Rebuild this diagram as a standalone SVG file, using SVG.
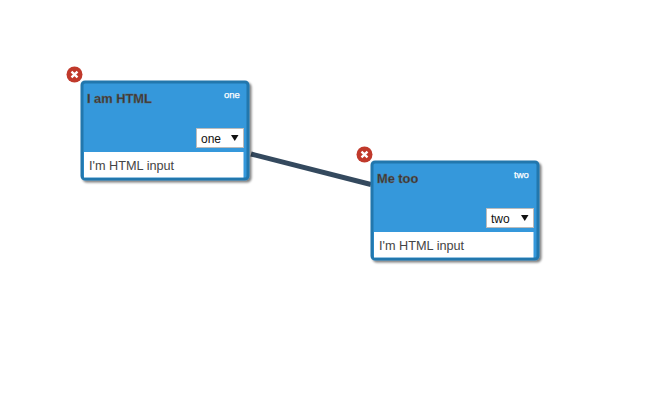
<svg xmlns="http://www.w3.org/2000/svg" width="650" height="406" viewBox="0 0 650 406">
<defs>
<filter id="sh" x="-10%" y="-10%" width="125%" height="125%"><feDropShadow dx="2" dy="2" stdDeviation="1.2" flood-color="#000" flood-opacity="0.5"/></filter>
<g id="close"><circle cx="0" cy="0" r="8" fill="#c0392b"/><path d="M-3 -2.800L3 2.800M3 -2.800L-3 2.800" stroke="#fff" stroke-width="2.400" fill="none"/></g>
</defs>
<style>
text{font-family:"Liberation Sans",Arial,sans-serif}
.box{fill:#3498db;stroke:#2377ad;stroke-width:3;filter:url(#sh)}
.title{font-size:12.800px;font-weight:bold;fill:#333;stroke:#666;stroke-width:.4}
.tag{font-size:9.500px;fill:#fff;stroke:#fff;stroke-width:.25}
.sel{fill:#fff;stroke:#bbb;stroke-width:1}
.val{font-size:12px;fill:#111}
.input{font-size:12.700px;fill:#444}
.arrow{fill:#111}
.edge{stroke:#34495e;stroke-width:5;fill:none}
</style>
<g id="connectors"><path class="edge" d="M251 154L371 184.500"/></g>
<g id="node-one">
<rect class="box" x="82" y="82" width="166" height="97" rx="3"/>
<rect x="84" y="152" width="159.500" height="25.500" fill="#fff"/>
<text class="title" x="87" y="103">I am HTML</text>
<text class="tag" x="224" y="98">one</text>
<rect class="sel" x="196.500" y="128.500" width="47" height="19"/>
<text class="val" x="201" y="143">one</text>
<path class="arrow" d="M231 135h7.500l-3.750 6z"/>
<text class="input" x="89" y="170">I'm HTML input</text>
<use href="#close" x="74.500" y="74.500"/>
</g>
<g id="node-two">
<rect class="box" x="372" y="162" width="166" height="97" rx="3"/>
<rect x="374" y="232" width="159.500" height="25.500" fill="#fff"/>
<text class="title" x="377" y="183">Me too</text>
<text class="tag" x="514" y="178">two</text>
<rect class="sel" x="486.500" y="208.500" width="47" height="19"/>
<text class="val" x="491" y="223">two</text>
<path class="arrow" d="M521 215h7.500l-3.750 6z"/>
<text class="input" x="379" y="250">I'm HTML input</text>
<use href="#close" x="364.500" y="154.500"/>
</g>
</svg>
